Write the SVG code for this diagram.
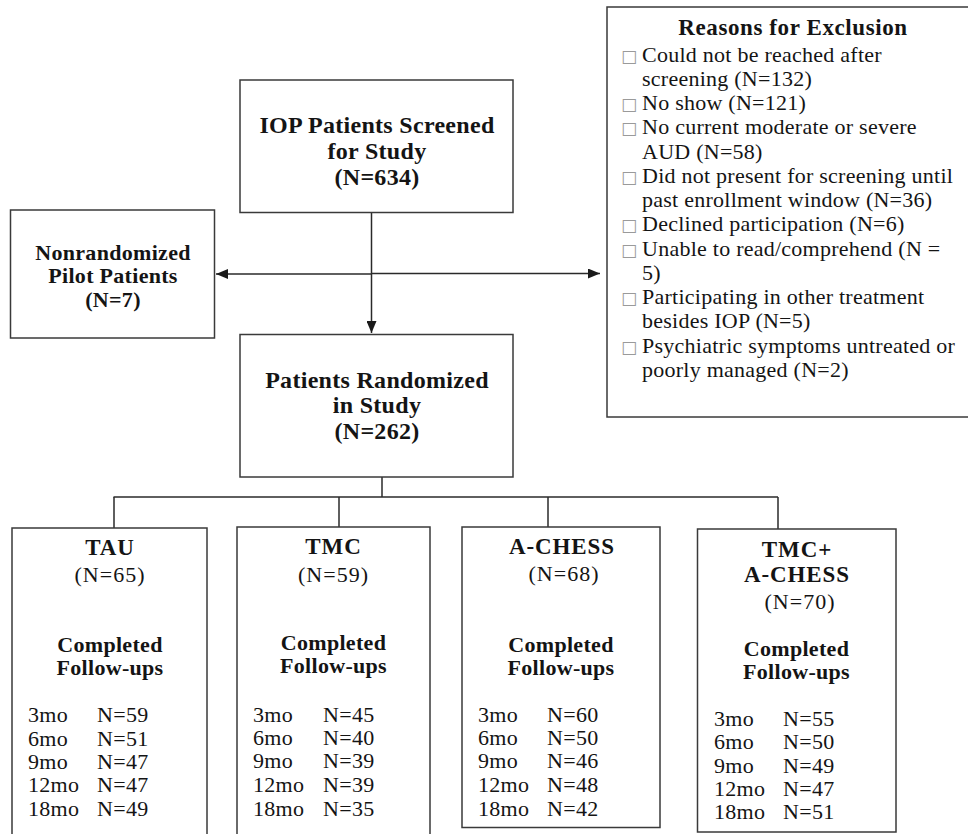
<svg xmlns="http://www.w3.org/2000/svg" width="968" height="834" viewBox="0 0 968 834">
<style>
.box{fill:#fff;stroke:#3a3a3a;stroke-width:1.5}
.ln{fill:none;stroke:#2a2a2a;stroke-width:1.5}
text{font-family:"Liberation Serif","Times New Roman",serif;fill:#141414}
.hb{font-size:24px;font-weight:bold;letter-spacing:0.3px;text-anchor:middle}
.pb{font-size:22px;font-weight:bold;letter-spacing:0.3px;text-anchor:middle}
.rt{font-size:23px;font-weight:bold;letter-spacing:0.6px;text-anchor:middle}
.rl{font-size:22px;letter-spacing:0.25px}
.sq{font-family:"DejaVu Sans",sans-serif;font-size:17px;fill:#9a9a9a}
.gt{font-size:23px;font-weight:bold;letter-spacing:0.9px;text-anchor:middle}
.gn{font-size:22px;letter-spacing:1px;text-anchor:middle}
.gc{font-size:22px;font-weight:bold;letter-spacing:0.3px;text-anchor:middle}
.gr{font-size:22px;letter-spacing:0.3px}
</style>
<defs>
<marker id="ah" viewBox="0 0 12 10" refX="12" refY="5" markerWidth="12" markerHeight="10" markerUnits="userSpaceOnUse" orient="auto">
<path d="M0,0 L12,5 L0,10 z" fill="#1a1a1a"/>
</marker>
</defs>

<g id="connectors">
<line class="ln" x1="371.5" y1="213" x2="371.5" y2="333" marker-end="url(#ah)"/>
<line class="ln" x1="371.5" y1="274" x2="216" y2="274" marker-end="url(#ah)"/>
<line class="ln" x1="371.5" y1="273.5" x2="600" y2="273.5" marker-end="url(#ah)"/>
<line class="ln" x1="382" y1="477" x2="382" y2="497"/>
<line class="ln" x1="113.5" y1="497" x2="778" y2="497"/>
<line class="ln" x1="114" y1="497" x2="114" y2="528"/>
<line class="ln" x1="339" y1="497" x2="339" y2="527"/>
<line class="ln" x1="548" y1="497" x2="548" y2="527"/>
<line class="ln" x1="778" y1="497" x2="778" y2="529"/>
</g>

<g id="screened">
<rect class="box" x="240" y="80" width="273" height="132.5"/>
<text class="hb" x="377" y="133">IOP Patients Screened</text>
<text class="hb" x="377" y="159">for Study</text>
<text class="hb" x="377" y="185">(N=634)</text>
</g>

<g id="pilot">
<rect class="box" x="10.5" y="210" width="204" height="128"/>
<text class="pb" x="113" y="260">Nonrandomized</text>
<text class="pb" x="113" y="283">Pilot Patients</text>
<text class="pb" x="113" y="307">(N=7)</text>
</g>

<g id="randomized">
<rect class="box" x="240" y="334.5" width="273" height="142.5"/>
<text class="hb" x="377" y="388">Patients Randomized</text>
<text class="hb" x="377" y="413">in Study</text>
<text class="hb" x="377" y="439">(N=262)</text>
</g>

<g id="exclusion">
<rect class="box" x="607" y="7" width="370" height="410"/>
<text class="rt" x="793" y="35">Reasons for Exclusion</text>
<text class="sq" x="621" y="61.5">□</text>
<text class="rl" x="642" y="61.5">Could not be reached after</text>
<text class="rl" x="642" y="85.75">screening (N=132)</text>
<text class="sq" x="621" y="110">□</text>
<text class="rl" x="642" y="110">No show (N=121)</text>
<text class="sq" x="621" y="134.25">□</text>
<text class="rl" x="642" y="134.25">No current moderate or severe</text>
<text class="rl" x="642" y="158.5">AUD (N=58)</text>
<text class="sq" x="621" y="182.75">□</text>
<text class="rl" x="642" y="182.75">Did not present for screening until</text>
<text class="rl" x="642" y="207">past enrollment window (N=36)</text>
<text class="sq" x="621" y="231.25">□</text>
<text class="rl" x="642" y="231.25">Declined participation (N=6)</text>
<text class="sq" x="621" y="255.5">□</text>
<text class="rl" x="642" y="255.5">Unable to read/comprehend (N =</text>
<text class="rl" x="642" y="279.75">5)</text>
<text class="sq" x="621" y="304">□</text>
<text class="rl" x="642" y="304">Participating in other treatment</text>
<text class="rl" x="642" y="328.25">besides IOP (N=5)</text>
<text class="sq" x="621" y="352.5">□</text>
<text class="rl" x="642" y="352.5">Psychiatric symptoms untreated or</text>
<text class="rl" x="642" y="376.75">poorly managed (N=2)</text>
</g>

<g id="tau">
<rect class="box" x="12" y="528" width="195" height="320"/>
<text class="gt" x="110" y="555">TAU</text>
<text class="gn" x="110" y="582">(N=65)</text>
<text class="gc" x="110" y="652">Completed</text>
<text class="gc" x="110" y="675">Follow-ups</text>
<text class="gr" x="28" y="722">3mo</text><text class="gr" x="97" y="722">N=59</text>
<text class="gr" x="28" y="746">6mo</text><text class="gr" x="97" y="746">N=51</text>
<text class="gr" x="28" y="769">9mo</text><text class="gr" x="97" y="769">N=47</text>
<text class="gr" x="28" y="792">12mo</text><text class="gr" x="97" y="792">N=47</text>
<text class="gr" x="28" y="816">18mo</text><text class="gr" x="97" y="816">N=49</text>
</g>

<g id="tmc">
<rect class="box" x="237" y="527" width="193" height="320"/>
<text class="gt" x="333.5" y="554">TMC</text>
<text class="gn" x="333.5" y="582">(N=59)</text>
<text class="gc" x="333.5" y="650">Completed</text>
<text class="gc" x="333.5" y="673">Follow-ups</text>
<text class="gr" x="253" y="722">3mo</text><text class="gr" x="323" y="722">N=45</text>
<text class="gr" x="253" y="745">6mo</text><text class="gr" x="323" y="745">N=40</text>
<text class="gr" x="253" y="768">9mo</text><text class="gr" x="323" y="768">N=39</text>
<text class="gr" x="253" y="792">12mo</text><text class="gr" x="323" y="792">N=39</text>
<text class="gr" x="253" y="816">18mo</text><text class="gr" x="323" y="816">N=35</text>
</g>

<g id="achess">
<rect class="box" x="462" y="527" width="198" height="300.5"/>
<text class="gt" x="562" y="554">A-CHESS</text>
<text class="gn" x="564" y="581">(N=68)</text>
<text class="gc" x="561" y="652">Completed</text>
<text class="gc" x="561" y="675">Follow-ups</text>
<text class="gr" x="478" y="722">3mo</text><text class="gr" x="547" y="722">N=60</text>
<text class="gr" x="478" y="745">6mo</text><text class="gr" x="547" y="745">N=50</text>
<text class="gr" x="478" y="768">9mo</text><text class="gr" x="547" y="768">N=46</text>
<text class="gr" x="478" y="792">12mo</text><text class="gr" x="547" y="792">N=48</text>
<text class="gr" x="478" y="816">18mo</text><text class="gr" x="547" y="816">N=42</text>
</g>

<g id="combo">
<rect class="box" x="697.5" y="529" width="198.5" height="303"/>
<text class="gt" x="797" y="557">TMC+</text>
<text class="gt" x="797" y="582">A-CHESS</text>
<text class="gn" x="800" y="609">(N=70)</text>
<text class="gc" x="796.5" y="656">Completed</text>
<text class="gc" x="796.5" y="679">Follow-ups</text>
<text class="gr" x="714" y="726">3mo</text><text class="gr" x="783" y="726">N=55</text>
<text class="gr" x="714" y="749">6mo</text><text class="gr" x="783" y="749">N=50</text>
<text class="gr" x="714" y="773">9mo</text><text class="gr" x="783" y="773">N=49</text>
<text class="gr" x="714" y="796">12mo</text><text class="gr" x="783" y="796">N=47</text>
<text class="gr" x="714" y="819">18mo</text><text class="gr" x="783" y="819">N=51</text>
</g>
</svg>
